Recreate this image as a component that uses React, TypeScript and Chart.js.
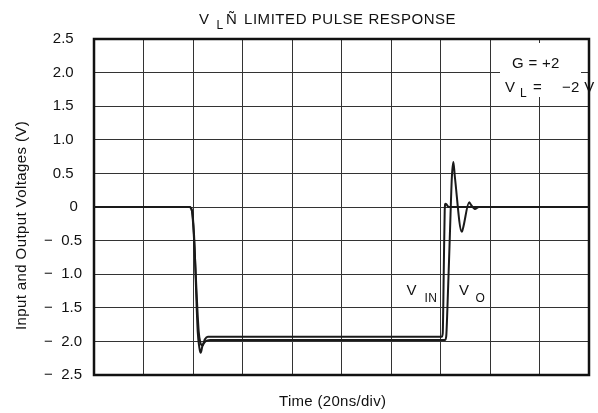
import React, { useEffect, useRef } from "react";
import { Chart, registerables } from "chart.js";

Chart.register(...registerables);

// Time in ns (20 ns/div, 10 divisions)
const vinTime = [0, 38.6, 39.6, 40.3, 42.3, 43.0, 43.8, 44.8, 46.0, 80, 120, 140.5, 140.9, 141.3, 141.7, 142.0, 142.6, 143.3, 170];
const vinVolts = [0, 0, -0.06, -0.4, -1.85, -2.02, -2.06, -1.97, -1.93, -1.93, -1.93, -1.93, -1.88, -1.0, -0.05, 0.05, 0.03, 0, 0];

const voTime = [0, 38.6, 39.6, 40.4, 41.9, 42.6, 43.1, 43.8, 45.0, 47.0, 90, 141.8, 142.3, 142.8, 143.8, 144.6, 145.2, 145.8, 148.6, 149.2, 151.6, 152.2, 153.9, 155.5, 200];
const voVolts = [0, 0, -0.06, -0.4, -1.85, -2.1, -2.17, -2.07, -2.0, -1.98, -1.98, -1.98, -1.93, -1.5, -0.4, 0.45, 0.67, 0.45, -0.37, -0.3, 0.07, 0.04, -0.03, 0, 0];

const yTickValues = [-2.5, -2.0, -1.5, -1.0, -0.5, 0, 0.5, 1.0, 1.5, 2.0, 2.5];
const yTickLabels = ["\u2212  2.5", "\u2212  2.0", "\u2212  1.5", "\u2212  1.0", "\u2212  0.5", "0 ", "0.5  ", "1.0  ", "1.5  ", "2.0  ", "2.5  "];

const FONT = "'Liberation Sans', Arial, Helvetica, sans-serif";

const textPlugin = {
  id: "texts",
  beforeDatasetsDraw(chart: any) {
    const ctx = chart.ctx as CanvasRenderingContext2D;
    const a = chart.chartArea;
    ctx.save();
    // legend box background
    ctx.fillStyle = "#ffffff";
    ctx.fillRect(500, 43, 81, 54);
    // frame
    ctx.strokeStyle = "#111";
    ctx.lineWidth = 2.5;
    ctx.strokeRect(a.left, a.top, a.right - a.left, a.bottom - a.top);
    ctx.restore();
  },
  afterDraw(chart: any) {
    const ctx = chart.ctx as CanvasRenderingContext2D;
    ctx.save();
    ctx.fillStyle = "#111";
    ctx.textBaseline = "alphabetic";
    ctx.textAlign = "left";
    (ctx as any).letterSpacing = "0.55px";
    // title
    ctx.font = `15px ${FONT}`;
    ctx.fillText("V", 199, 24);
    ctx.font = `12px ${FONT}`;
    ctx.fillText("L", 216.5, 28.5);
    ctx.font = `15px ${FONT}`;
    ctx.fillText("Ñ", 226, 24);
    ctx.fillText("LIMITED PULSE RESPONSE", 244, 24);
    // x title
    (ctx as any).letterSpacing = "0.3px";
    ctx.fillText("Time (20ns/div)", 279, 406);
    // y title
    (ctx as any).letterSpacing = "0.4px";
    ctx.save();
    ctx.translate(26, 225.5);
    ctx.rotate(-Math.PI / 2);
    ctx.textAlign = "center";
    ctx.fillText("Input and Output Voltages (V)", 0, 0);
    ctx.restore();
    // G box
    (ctx as any).letterSpacing = "0.3px";
    ctx.font = `15px ${FONT}`;
    ctx.fillText("G = +2", 512, 68);
    ctx.fillText("V", 505, 91.5);
    ctx.font = `12px ${FONT}`;
    ctx.fillText("L", 520, 96.5);
    ctx.font = `15px ${FONT}`;
    ctx.fillText("=", 533, 91.5);
    ctx.fillText("\u22122 V", 562, 91.5);
    // curve labels
    ctx.fillText("V", 406.5, 295);
    ctx.font = `12px ${FONT}`;
    ctx.fillText("IN", 424.5, 301.5);
    ctx.font = `15px ${FONT}`;
    ctx.fillText("V", 459, 295);
    ctx.font = `12px ${FONT}`;
    ctx.fillText("O", 475.5, 301.5);
    ctx.restore();
  },
};

export default function App() {
  const ref = useRef<HTMLCanvasElement>(null);
  useEffect(() => {
    if (!ref.current) return;
    const chart = new Chart(ref.current, {
      type: "line",
      data: {
        datasets: [
          {
            label: "VIN",
            data: vinTime.map((t, i) => ({ x: t, y: vinVolts[i] })),
            borderColor: "#1a1a1a",
            borderWidth: 2,
            pointRadius: 0,
            cubicInterpolationMode: "monotone",
            fill: false,
          },
          {
            label: "VO",
            data: voTime.map((t, i) => ({ x: t, y: voVolts[i] })),
            borderColor: "#1a1a1a",
            borderWidth: 2,
            pointRadius: 0,
            cubicInterpolationMode: "monotone",
            fill: false,
          },
        ],
      },
      options: {
        responsive: false,
        animation: false,
        layout: { padding: { left: 0, right: 9, top: 39, bottom: 0 } },
        plugins: { legend: { display: false }, tooltip: { enabled: false }, title: { display: false } },
        scales: {
          x: {
            type: "linear",
            min: 0,
            max: 200,
            ticks: { display: false, stepSize: 20 },
            grid: { color: "#333", lineWidth: 1, drawTicks: false },
            border: { display: false },
            afterFit: (s: any) => { s.height = 38; },
          },
          y: {
            type: "linear",
            min: -2.5,
            max: 2.5,
            afterBuildTicks: (s: any) => { s.ticks = yTickValues.map((v) => ({ value: v })); },
            ticks: {
              padding: 12,
              color: "#111",
              font: { family: FONT, size: 15 },
              callback: (v: any) => {
                const i = yTickValues.findIndex((t) => Math.abs(t - Number(v)) < 1e-6);
                return i >= 0 ? yTickLabels[i] : "";
              },
            },
            grid: { color: "#333", lineWidth: 1, drawTicks: false },
            border: { display: false },
            afterFit: (s: any) => { s.width = 94; },
          },
        },
      },
      plugins: [textPlugin],
    });
    return () => chart.destroy();
  }, []);
  return (
    <div style={{ position: "absolute", left: 0, top: 0, width: 598, height: 413, background: "#fff" }}>
      <canvas ref={ref} width={598} height={413} style={{ width: 598, height: 413, display: "block" }} />
    </div>
  );
}
